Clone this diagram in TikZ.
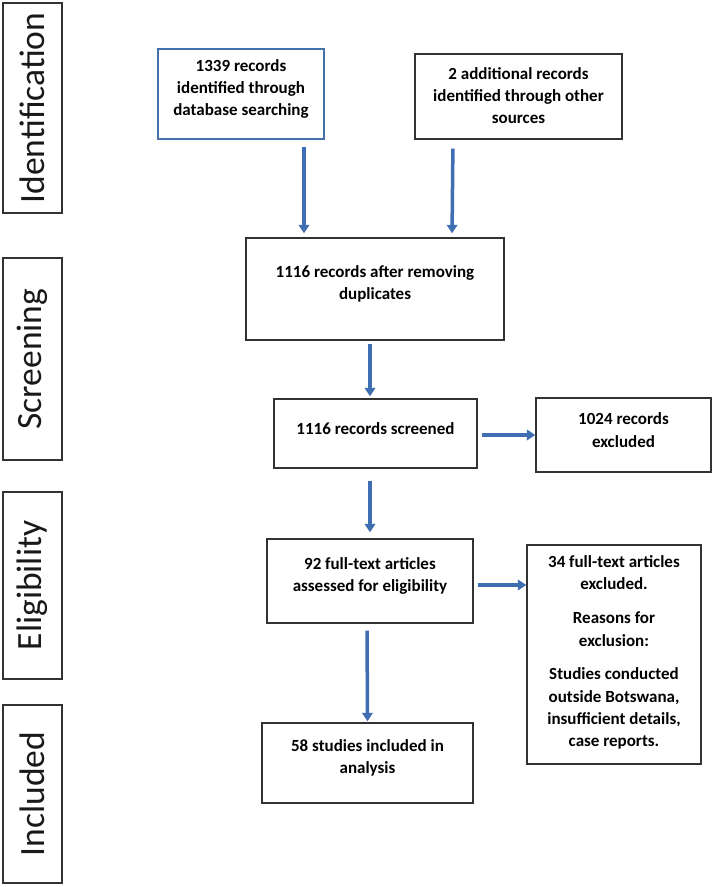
\documentclass[tikz,border=0pt]{standalone}
\usepackage{fontspec}
\setmainfont{Carlito}
\usetikzlibrary{arrows.meta}
\definecolor{arrblue}{RGB}{64,110,178}
\definecolor{boxline}{RGB}{50,50,50}
\definecolor{dbline}{RGB}{70,112,170}
\tikzset{
  box/.style={draw=boxline, line width=1.4pt, fill=white, inner sep=0pt},
  sidebox/.style={draw=boxline, line width=1.4pt, minimum width=59pt, inner sep=0pt},
  sidetxt/.style={rotate=90, font=\fontsize{35.5}{40}\selectfont, text=black!90},
  txt/.style={align=center, font=\fontsize{17}{22.3}\selectfont\bfseries, inner sep=0pt},
  arr/.style={draw=arrblue, line width=3.5pt, -{Triangle[width=10.5pt,length=8.5pt]}}
}
\begin{document}
\begin{tikzpicture}[x=1pt,y=-1pt]
\useasboundingbox[fill=white] (0,0) rectangle (714,887);

% side boxes
\node[sidebox, minimum height=210pt] (sid) at (32.5,108) {};
\node[sidetxt] (sidt) at (sid.center) {Identification};
\node[sidebox, minimum height=202pt] (sscr) at (32.5,359) {};
\node[sidetxt] (sscrt) at (sscr.center) {Screening};
\node[sidebox, minimum height=187pt] (selg) at (32.5,585.5) {};
\node[sidetxt] (selgt) at (selg.center) {Eligibility};
\node[sidebox, minimum height=178pt] (sinc) at (32.5,794) {};
\node[sidetxt] (sinct) at (sinc.center) {Included};

% main boxes
\node[box, draw=dbline, minimum width=166pt, minimum height=90pt] (db) at (241,94) {};
\node[txt] (dbt) at ([yshift=5pt]db.center) {1339 records\\identified through\\database searching};

\node[box, minimum width=207pt, minimum height=85pt] (oth) at (518.5,96.5) {};
\node[txt] (otht) at ([yshift=1pt]oth.center) {2 additional records\\identified through other\\sources};

\node[box, minimum width=258pt, minimum height=102pt] (dup) at (375,289) {};
\node[txt] (dupt) at ([yshift=5pt]dup.center) {1116 records after removing\\duplicates};

\node[box, minimum width=203pt, minimum height=69pt] (scr) at (375.5,433.5) {};
\node[txt] (scrt) at ([yshift=5pt]scr.center) {1116 records screened};

\node[box, minimum width=175pt, minimum height=74pt] (ex1) at (623.5,435) {};
\node[txt] (ex1t) at ([yshift=5pt]ex1.center) {1024 records\\excluded};

\node[box, minimum width=206pt, minimum height=84pt] (elg) at (370,581) {};
\node[txt] (elgt) at ([yshift=5pt]elg.center) {92 full-text articles\\assessed for eligibility};

\node[box, minimum width=174pt, minimum height=219pt] (ex2) at (614,654.5) {};
\node[txt] (ex2t) at ([yshift=2pt]ex2.center) {34 full-text articles\\excluded.\\[11.5pt]Reasons for\\exclusion:\\[11.5pt]Studies conducted\\outside Botswana,\\insufficient details,\\case reports.};

\node[box, minimum width=211pt, minimum height=80pt] (inc) at (367.5,763) {};
\node[txt] (inct) at ([yshift=5pt]inc.center) {58 studies included in\\analysis};

% connectors
\draw[arr, shorten <=7pt, shorten >=4pt] ([xshift=63pt]db.south) -- ([xshift=-71pt]dup.north);
\draw[arr, shorten <=9pt, shorten >=4pt] ([xshift=-65.5pt]oth.south) -- ([xshift=77pt]dup.north);
\draw[arr, shorten <=3pt, shorten >=2pt] ([xshift=-5pt]dup.south) -- ([xshift=-5.5pt]scr.north);
\draw[arr, shorten <=4pt, shorten >=0pt] ([yshift=-1.5pt]scr.east) -- (ex1.west);
\draw[arr, shorten <=12pt, shorten >=6pt] ([xshift=-5.5pt]scr.south) -- (elg.north);
\draw[arr, shorten <=4pt, shorten >=0pt] ([yshift=-4pt]elg.east) -- ([yshift=-4pt]elg.east -| ex2.west);
\draw[arr, shorten <=7pt, shorten >=1pt] ([xshift=-3pt]elg.south) -- (inc.north);
\end{tikzpicture}
\end{document}
